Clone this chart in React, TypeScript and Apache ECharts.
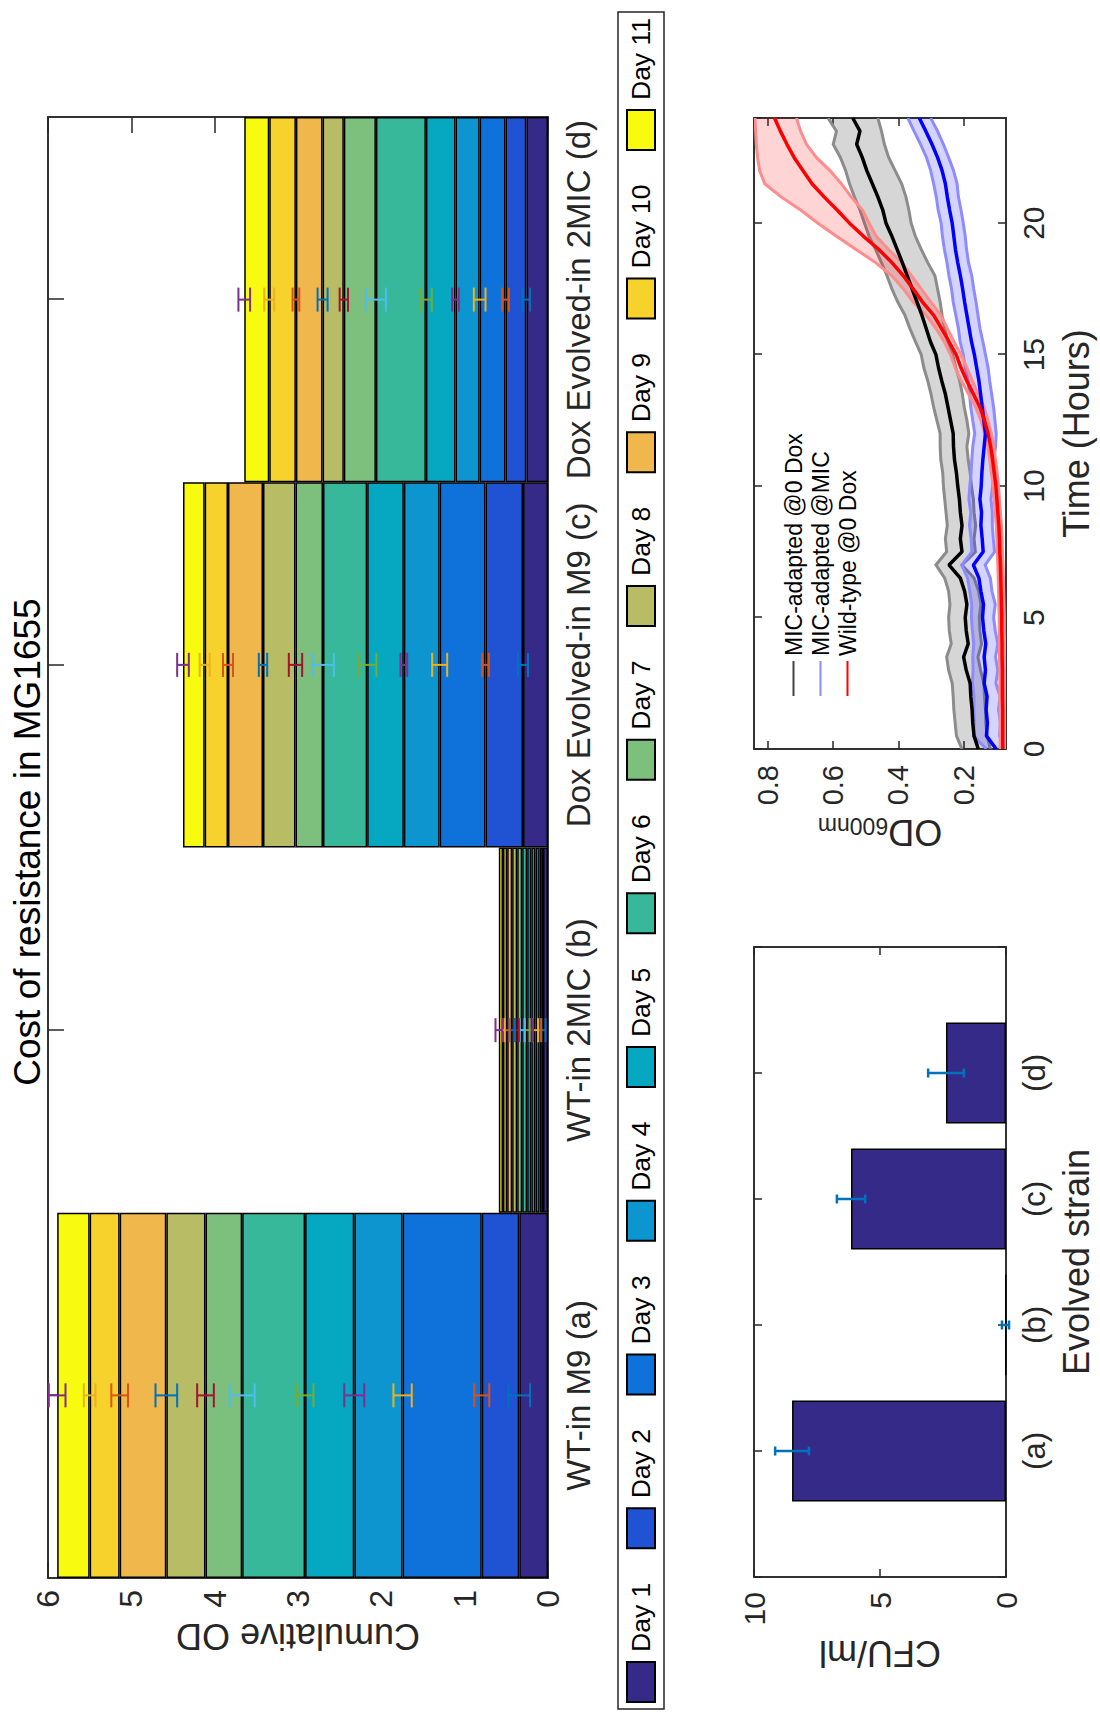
import React, { useEffect, useRef } from 'react';
import * as echarts from 'echarts';

const FONT = "'Liberation Sans', Arial, Helvetica, sans-serif";
const INK = '#262626';

// ---------- stacked daily OD panel ----------
const dayNames = ['Day 1', 'Day 2', 'Day 3', 'Day 4', 'Day 5', 'Day 6', 'Day 7', 'Day 8', 'Day 9', 'Day 10', 'Day 11'];
const dayColors = ['#352A87', '#2052D4', '#0F72DB', '#0D95D0', '#06A8C1', '#38B89A', '#7DBF7C', '#B8BC64', '#F0B84C', '#F8D22C', '#F8FA0F'];
const errorBarColors = ['#0072BD', '#D95319', '#EDB120', '#7E2F8E', '#77AC30', '#4DBEEE', '#A2142F'];
const strainNames = ['WT-in M9 (a)', 'WT-in 2MIC (b)', 'Dox Evolved-in M9 (c)', 'Dox Evolved-in 2MIC (d)'];
const strainTags = ['(a)', '(b)', '(c)', '(d)'];

// OD gained on each day (Day 1 … Day 11)
const wtM9Daily = [0.345, 0.45, 0.95, 0.58, 0.59, 0.755, 0.44, 0.47, 0.56, 0.36, 0.39];
const wt2MicDaily = [0.06, 0.04, 0.05, 0.05, 0.05, 0.06, 0.06, 0.06, 0.06, 0.05, 0.05];
const doxM9Daily = [0.3, 0.45, 0.55, 0.43, 0.44, 0.53, 0.33, 0.39, 0.42, 0.28, 0.26];
const dox2MicDaily = [0.26, 0.25, 0.31, 0.29, 0.355, 0.6, 0.385, 0.255, 0.32, 0.32, 0.3];

// standard deviation of the cumulative OD after each day
const wtM9Err = [0.13, 0.09, 0.11, 0.12, 0.1, 0.15, 0.1, 0.13, 0.1, 0.07, 0.1];
const wt2MicErr = [0.03, 0.02, 0.03, 0.02, 0.03, 0.03, 0.02, 0.03, 0.03, 0.02, 0.04];
const doxM9Err = [0.06, 0.04, 0.09, 0.04, 0.11, 0.13, 0.08, 0.05, 0.06, 0.06, 0.07];
const dox2MicErr = [0.045, 0.04, 0.07, 0.04, 0.07, 0.12, 0.05, 0.06, 0.04, 0.06, 0.07];

// ---------- CFU panel ----------
const cfuPositions = [1, 2, 3, 4];
const cfuMean = [8.49, 0.02, 6.15, 2.38];
const cfuErr = [0.67, 0.14, 0.56, 0.71];

// ---------- growth curves ----------
const hours = [0, 0.5, 1, 1.5, 2, 2.5, 3, 3.5, 4, 4.5, 5, 5.5, 6, 6.5, 7, 7.5, 8, 8.5, 9, 9.5, 10, 10.5, 11, 11.5, 12, 12.5, 13, 13.5, 14, 14.5, 15, 15.5, 16, 16.5, 17, 17.5, 18, 18.5, 19, 19.5, 20, 20.5, 21, 21.5, 22, 22.5, 23, 23.5, 24];

const adaptedNoDoxMean = [0.155, 0.168, 0.172, 0.174, 0.178, 0.18, 0.192, 0.2, 0.186, 0.192, 0.195, 0.19, 0.197, 0.21, 0.245, 0.205, 0.21, 0.205, 0.21, 0.213, 0.218, 0.222, 0.228, 0.231, 0.232, 0.24, 0.248, 0.256, 0.267, 0.277, 0.285, 0.302, 0.315, 0.328, 0.343, 0.358, 0.373, 0.388, 0.404, 0.42, 0.438, 0.448, 0.463, 0.48, 0.497, 0.511, 0.528, 0.518, 0.54];
const adaptedNoDoxHigh = [0.205, 0.222, 0.226, 0.23, 0.232, 0.235, 0.246, 0.252, 0.238, 0.244, 0.246, 0.242, 0.246, 0.258, 0.285, 0.252, 0.256, 0.25, 0.254, 0.258, 0.262, 0.264, 0.27, 0.272, 0.272, 0.282, 0.292, 0.3, 0.31, 0.322, 0.33, 0.348, 0.365, 0.38, 0.402, 0.42, 0.435, 0.452, 0.47, 0.49, 0.504, 0.518, 0.535, 0.55, 0.562, 0.578, 0.6, 0.59, 0.616];
const adaptedNoDoxLow = [0.118, 0.128, 0.132, 0.133, 0.136, 0.138, 0.148, 0.156, 0.145, 0.15, 0.152, 0.147, 0.154, 0.168, 0.205, 0.164, 0.168, 0.163, 0.168, 0.17, 0.176, 0.18, 0.186, 0.19, 0.184, 0.19, 0.198, 0.204, 0.212, 0.224, 0.234, 0.248, 0.258, 0.266, 0.272, 0.28, 0.288, 0.31, 0.33, 0.348, 0.361, 0.368, 0.377, 0.39, 0.41, 0.43, 0.443, 0.452, 0.463];

const adaptedMicMean = [0.1, 0.13, 0.127, 0.131, 0.128, 0.137, 0.133, 0.137, 0.132, 0.138, 0.142, 0.139, 0.147, 0.153, 0.17, 0.14, 0.143, 0.147, 0.145, 0.15, 0.146, 0.144, 0.141, 0.137, 0.133, 0.138, 0.143, 0.148, 0.153, 0.16, 0.167, 0.176, 0.183, 0.19, 0.197, 0.203, 0.21, 0.218, 0.225, 0.23, 0.235, 0.243, 0.25, 0.256, 0.266, 0.28, 0.297, 0.316, 0.336];
const adaptedMicSpread = [0.03, 0.04, 0.04, 0.038, 0.04, 0.036, 0.038, 0.035, 0.037, 0.035, 0.034, 0.036, 0.034, 0.035, 0.036, 0.035, 0.034, 0.035, 0.033, 0.034, 0.035, 0.033, 0.034, 0.035, 0.033, 0.034, 0.035, 0.034, 0.033, 0.035, 0.034, 0.035, 0.033, 0.034, 0.035, 0.034, 0.035, 0.033, 0.034, 0.035, 0.034, 0.035, 0.034, 0.036, 0.035, 0.034, 0.035, 0.036, 0.035];

const wildTypeMean = [0.08, 0.08, 0.08, 0.08, 0.081, 0.081, 0.081, 0.082, 0.082, 0.083, 0.083, 0.084, 0.085, 0.086, 0.087, 0.089, 0.09, 0.092, 0.095, 0.098, 0.101, 0.106, 0.111, 0.117, 0.125, 0.136, 0.15, 0.17, 0.19, 0.208, 0.223, 0.245, 0.268, 0.292, 0.326, 0.355, 0.385, 0.42, 0.46, 0.507, 0.55, 0.588, 0.628, 0.665, 0.693, 0.72, 0.742, 0.762, 0.78];
const wildTypeLow = [0.072, 0.072, 0.072, 0.072, 0.073, 0.073, 0.073, 0.074, 0.074, 0.075, 0.075, 0.076, 0.077, 0.078, 0.079, 0.081, 0.082, 0.084, 0.087, 0.09, 0.093, 0.097, 0.102, 0.108, 0.115, 0.125, 0.137, 0.155, 0.173, 0.19, 0.208, 0.23, 0.25, 0.27, 0.3, 0.33, 0.36, 0.39, 0.43, 0.468, 0.49, 0.51, 0.545, 0.575, 0.61, 0.652, 0.682, 0.7, 0.713];
const wildTypeHigh = [0.088, 0.088, 0.088, 0.088, 0.089, 0.089, 0.089, 0.09, 0.09, 0.091, 0.091, 0.092, 0.093, 0.094, 0.095, 0.097, 0.098, 0.1, 0.103, 0.106, 0.109, 0.115, 0.12, 0.126, 0.135, 0.147, 0.163, 0.185, 0.207, 0.226, 0.24, 0.26, 0.285, 0.315, 0.355, 0.385, 0.42, 0.47, 0.53, 0.59, 0.647, 0.7, 0.76, 0.81, 0.826, 0.832, 0.836, 0.838, 0.84];

const odTicks = [0.2, 0.4, 0.6, 0.8];
const curveNames = ['MIC-adapted @0 Dox', 'MIC-adapted @MIC', 'Wild-type @0 Dox'];
const curveKeyColors = ['#404040', '#8c8cff', '#ff0000'];

function errorBarRenderer(capHalf: number, lineWidth: number, colorOf: (api: any) => string) {
  return (_params: any, api: any) => {
    const x = api.value(0);
    const y = api.value(1);
    const e = api.value(2);
    const lo = api.coord([x, y - e]);
    const hi = api.coord([x, y + e]);
    const style = { stroke: colorOf(api), lineWidth };
    return {
      type: 'group',
      children: [
        { type: 'line', shape: { x1: lo[0], y1: lo[1], x2: hi[0], y2: hi[1] }, style },
        { type: 'line', shape: { x1: lo[0] - capHalf, y1: lo[1], x2: lo[0] + capHalf, y2: lo[1] }, style },
        { type: 'line', shape: { x1: hi[0] - capHalf, y1: hi[1], x2: hi[0] + capHalf, y2: hi[1] }, style },
      ],
    };
  };
}

function bandRenderer(low: number[], high: number[], fill: string, edge: string) {
  return (params: any, api: any) => {
    if (params.dataIndex !== 0) return null;
    const upper = hours.map((t, i) => api.coord([t, high[i]]));
    const lower = hours.map((t, i) => api.coord([t, low[i]]));
    return {
      type: 'group',
      children: [
        { type: 'polygon', shape: { points: upper.concat(lower.slice().reverse()) }, style: { fill, stroke: null } },
        { type: 'polyline', shape: { points: upper }, style: { stroke: edge, lineWidth: 3, fill: null } },
        { type: 'polyline', shape: { points: lower }, style: { stroke: edge, lineWidth: 3, fill: null } },
      ],
    };
  };
}

const tickStyle = (length: number) => ({ show: true, inside: true, length, lineStyle: { color: INK, width: 1.5 } });
const lineStyle = { show: true, onZero: false, lineStyle: { color: INK, width: 1.5 } };

function buildOption() {
  const dailyByStrain = [wtM9Daily, wt2MicDaily, doxM9Daily, dox2MicDaily];
  const errByStrain = [wtM9Err, wt2MicErr, doxM9Err, dox2MicErr];

  const stackBars = dayNames.map((name, d) => ({
    type: 'bar',
    name,
    stack: 'od',
    xAxisIndex: 0,
    yAxisIndex: 0,
    barCategoryGap: '0%',
    z: 2,
    data: dailyByStrain.map((daily) => daily[d]),
    itemStyle: { color: dayColors[d], borderColor: '#000', borderWidth: 1.5 },
  }));

  const stackErrorRows: number[][] = [];
  dailyByStrain.forEach((daily, s) => {
    let total = 0;
    daily.forEach((v, d) => {
      total += v;
      stackErrorRows.push([s, total, errByStrain[s][d], d]);
    });
  });

  const band = (low: number[], high: number[], fill: string, edge: string) => ({
    type: 'custom',
    xAxisIndex: 4,
    yAxisIndex: 4,
    clip: true,
    silent: true,
    z: 3,
    encode: { x: 0, y: [1, 2] },
    data: hours.map((t, i) => [t, low[i], high[i]]),
    renderItem: bandRenderer(low, high, fill, edge),
  });

  const curve = (name: string, mean: number[], color: string) => ({
    type: 'line',
    name,
    xAxisIndex: 4,
    yAxisIndex: 4,
    symbol: 'none',
    z: 3,
    data: hours.map((t, i) => [t, mean[i]]),
    lineStyle: { color, width: 3.5 },
    itemStyle: { color },
  });

  const micLow = adaptedMicMean.map((m, i) => m - adaptedMicSpread[i]);
  const micHigh = adaptedMicMean.map((m, i) => m + adaptedMicSpread[i]);

  return {
    animation: false,
    backgroundColor: '#fff',
    textStyle: { fontFamily: FONT },
    title: {
      text: 'Cost of resistance in MG1655',
      left: 870,
      top: 4,
      textAlign: 'center',
      textStyle: { fontSize: 37, fontWeight: 'normal', color: '#000', fontFamily: FONT },
    },
    legend: [
      {
        data: dayNames,
        left: 8,
        right: 0,
        top: 618,
        orient: 'horizontal',
        icon: 'rect',
        itemWidth: 40,
        itemHeight: 28,
        itemGap: 33.5,
        padding: [8, 6],
        selectedMode: false,
        borderColor: INK,
        borderWidth: 1.5,
        backgroundColor: '#fff',
        textStyle: { fontSize: 26.5, color: '#000', fontFamily: FONT, padding: [0, 0, 0, 5] },
      },
      {
        data: curveNames.map((name, i) => ({ name, icon: 'rect', itemStyle: { color: curveKeyColors[i] } })),
        left: 1021,
        top: 782,
        orient: 'vertical',
        itemWidth: 35,
        itemHeight: 2,
        itemGap: 4,
        padding: 0,
        selectedMode: false,
        textStyle: { fontSize: 23, color: '#000', fontFamily: FONT },
      },
    ],
    grid: [
      { left: 139, top: 48, width: 1461, height: 500, show: true, borderColor: INK, borderWidth: 1.5, containLabel: false },
      { left: 140, top: 754, width: 630, height: 252, show: true, borderColor: INK, borderWidth: 1.5, containLabel: false },
      { left: 968, top: 754, width: 631, height: 252, show: true, borderColor: INK, borderWidth: 1.5, containLabel: false },
    ],
    xAxis: [
      {
        gridIndex: 0,
        type: 'category',
        position: 'bottom',
        data: strainNames,
        axisLine: lineStyle,
        axisTick: { ...tickStyle(16), alignWithLabel: true },
        axisLabel: { interval: 0, fontSize: 33, color: INK, margin: 14, fontFamily: FONT },
        splitLine: { show: false },
      },
      {
        gridIndex: 0,
        type: 'category',
        position: 'top',
        data: strainNames,
        axisLine: lineStyle,
        axisTick: { ...tickStyle(16), alignWithLabel: true },
        axisLabel: { show: false },
        splitLine: { show: false },
      },
      {
        gridIndex: 1,
        type: 'value',
        position: 'bottom',
        min: 0,
        max: 5,
        interval: 1,
        axisLine: lineStyle,
        axisTick: tickStyle(8),
        axisLabel: {
          fontSize: 31,
          color: INK,
          margin: 13,
          fontFamily: FONT,
          formatter: (v: number) => (v >= 1 && v <= 4 ? strainTags[v - 1] : ''),
        },
        splitLine: { show: false },
        name: 'Evolved strain',
        nameLocation: 'middle',
        nameGap: 52,
        nameTextStyle: { fontSize: 36, color: INK, fontFamily: FONT },
      },
      {
        gridIndex: 1,
        type: 'value',
        position: 'top',
        min: 0,
        max: 5,
        interval: 1,
        axisLine: lineStyle,
        axisTick: tickStyle(8),
        axisLabel: { show: false },
        splitLine: { show: false },
      },
      {
        gridIndex: 2,
        type: 'value',
        position: 'bottom',
        min: 0,
        max: 24,
        interval: 5,
        axisLine: lineStyle,
        axisTick: tickStyle(8),
        axisLabel: { fontSize: 30, color: INK, margin: 12, fontFamily: FONT, showMaxLabel: false },
        splitLine: { show: false },
        name: 'Time (Hours)',
        nameLocation: 'middle',
        nameGap: 52,
        nameTextStyle: { fontSize: 36, color: INK, fontFamily: FONT },
      },
      {
        gridIndex: 2,
        type: 'value',
        position: 'top',
        min: 0,
        max: 24,
        interval: 5,
        axisLine: lineStyle,
        axisTick: tickStyle(8),
        axisLabel: { show: false },
        splitLine: { show: false },
      },
    ],
    yAxis: [
      {
        gridIndex: 0,
        type: 'value',
        position: 'left',
        min: 0,
        max: 6,
        interval: 1,
        axisLine: lineStyle,
        axisTick: tickStyle(16),
        axisLabel: { fontSize: 32, color: INK, margin: 12, fontFamily: FONT },
        splitLine: { show: false },
        name: 'Cumulative OD',
        nameLocation: 'middle',
        nameGap: 40,
        nameTextStyle: { fontSize: 36, color: INK, fontFamily: FONT },
      },
      {
        gridIndex: 0,
        type: 'value',
        position: 'right',
        min: 0,
        max: 6,
        interval: 1,
        axisLine: lineStyle,
        axisTick: tickStyle(16),
        axisLabel: { show: false },
        splitLine: { show: false },
      },
      {
        gridIndex: 1,
        type: 'value',
        position: 'left',
        min: 0,
        max: 10,
        interval: 5,
        axisLine: lineStyle,
        axisTick: tickStyle(8),
        axisLabel: { fontSize: 30, color: INK, margin: 15, fontFamily: FONT },
        splitLine: { show: false },
        name: 'CFU/ml',
        nameLocation: 'middle',
        nameGap: 58,
        nameTextStyle: { fontSize: 36, color: INK, fontFamily: FONT },
      },
      {
        gridIndex: 1,
        type: 'value',
        position: 'right',
        min: 0,
        max: 10,
        interval: 5,
        axisLine: lineStyle,
        axisTick: tickStyle(8),
        axisLabel: { show: false },
        splitLine: { show: false },
      },
      {
        gridIndex: 2,
        type: 'value',
        position: 'left',
        min: 0.07,
        max: 0.843,
        axisLine: lineStyle,
        axisTick: { ...tickStyle(8), customValues: odTicks },
        axisLabel: { fontSize: 29, color: INK, margin: 16, fontFamily: FONT, customValues: odTicks, formatter: (v: number) => v.toFixed(1) },
        splitLine: { show: false },
        name: '{od|OD}{sub|600nm}',
        nameLocation: 'middle',
        nameGap: 65,
        nameTextStyle: {
          color: INK,
          rich: {
            od: { fontSize: 36, lineHeight: 36, verticalAlign: 'bottom', color: INK, fontFamily: FONT },
            sub: { fontSize: 23, lineHeight: 23, verticalAlign: 'bottom', padding: [15, 0, 0, 0], color: INK, fontFamily: FONT },
          },
        },
      },
      {
        gridIndex: 2,
        type: 'value',
        position: 'right',
        min: 0.07,
        max: 0.843,
        axisLine: lineStyle,
        axisTick: { ...tickStyle(8), customValues: odTicks },
        axisLabel: { show: false },
        splitLine: { show: false },
      },
    ],
    series: [
      ...stackBars,
      {
        type: 'custom',
        name: 'day error',
        xAxisIndex: 0,
        yAxisIndex: 0,
        silent: true,
        z: 10,
        encode: { x: 0, y: 1 },
        data: stackErrorRows,
        renderItem: errorBarRenderer(12, 2, (api) => errorBarColors[api.value(3) % errorBarColors.length]),
      },
      {
        type: 'bar',
        name: 'CFU',
        xAxisIndex: 2,
        yAxisIndex: 2,
        barWidth: 101,
        z: 2,
        data: cfuPositions.map((p, i) => [p, cfuMean[i]]),
        itemStyle: { color: '#352A87', borderColor: '#000', borderWidth: 1.5 },
      },
      {
        type: 'custom',
        name: 'CFU error',
        xAxisIndex: 2,
        yAxisIndex: 2,
        silent: true,
        z: 10,
        encode: { x: 0, y: 1 },
        data: cfuPositions.map((p, i) => [p, cfuMean[i], cfuErr[i]]),
        renderItem: errorBarRenderer(4.5, 2.5, () => '#0072BD'),
      },
      band(adaptedNoDoxLow, adaptedNoDoxHigh, 'rgba(0,0,0,0.16)', '#8c8c8c'),
      curve(curveNames[0], adaptedNoDoxMean, '#000000'),
      band(micLow, micHigh, 'rgba(0,0,255,0.17)', '#8c8cff'),
      curve(curveNames[1], adaptedMicMean, '#0000ff'),
      band(wildTypeLow, wildTypeHigh, 'rgba(255,0,0,0.17)', '#ff8c8c'),
      curve(curveNames[2], wildTypeMean, '#ff0000'),
    ],
  };
}

export default function App() {
  const ref = useRef<HTMLDivElement>(null);
  useEffect(() => {
    if (!ref.current) return;
    const chart = echarts.init(ref.current, undefined, { renderer: 'svg' });
    chart.setOption(buildOption() as any);
    return () => chart.dispose();
  }, []);
  return (
    <div
      style={{
        position: 'absolute',
        left: 0,
        top: 0,
        width: 1100,
        height: 1717,
        overflow: 'hidden',
        background: '#fff',
      }}
    >
      <div
        ref={ref}
        style={{
          position: 'absolute',
          left: 0,
          top: 0,
          width: 1717,
          height: 1100,
          transformOrigin: '0 0',
          transform: 'translateY(1717px) rotate(-90deg)',
        }}
      />
    </div>
  );
}
